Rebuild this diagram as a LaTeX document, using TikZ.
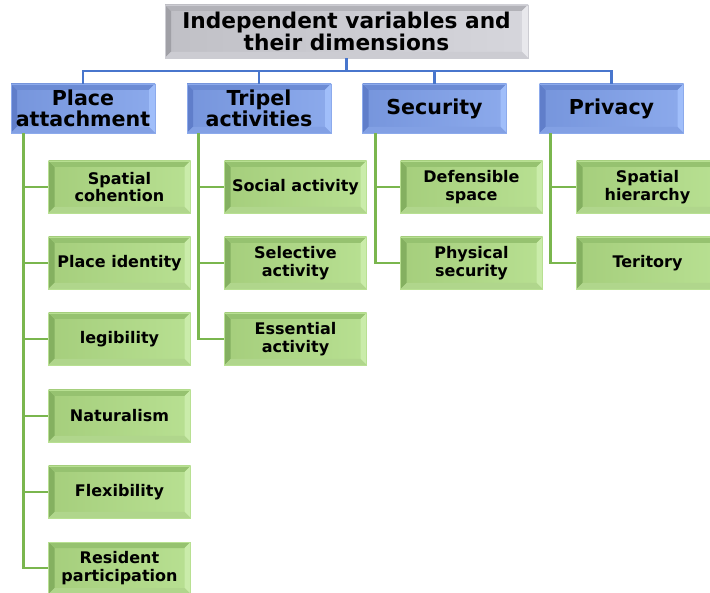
\documentclass[tikz,border=0pt]{standalone}
\usepackage{fontspec}
\setmainfont{DejaVu Sans}
\usetikzlibrary{calc}
\definecolor{busblue}{RGB}{72,118,205}
\definecolor{linegreen}{RGB}{122,182,78}
\definecolor{bfl}{RGB}{118,149,220}
\definecolor{bfr}{RGB}{140,170,236}
\definecolor{bl}{RGB}{96,126,202}
\definecolor{bt}{RGB}{108,139,212}
\definecolor{br}{RGB}{160,190,250}
\definecolor{bb}{RGB}{130,160,228}
\definecolor{gfl}{RGB}{165,206,124}
\definecolor{gfr}{RGB}{184,224,146}
\definecolor{gl}{RGB}{132,176,96}
\definecolor{gt}{RGB}{150,194,112}
\definecolor{gr}{RGB}{202,236,170}
\definecolor{gb}{RGB}{176,214,140}
\definecolor{rfl}{RGB}{192,192,198}
\definecolor{rfr}{RGB}{214,214,220}
\definecolor{rl}{RGB}{160,160,166}
\definecolor{rt}{RGB}{178,178,184}
\definecolor{rr}{RGB}{232,232,236}
\definecolor{rb}{RGB}{204,204,210}
\tikzset{
  bevel/.style n args={6}{
    path picture={
      \path (path picture bounding box.north west) coordinate (q1)
            (path picture bounding box.north east) coordinate (q2)
            (path picture bounding box.south east) coordinate (q3)
            (path picture bounding box.south west) coordinate (q4);
      \shade[left color=#1,right color=#2] (q4) rectangle (q2);
      \fill[#3] (q1) -- ($(q1)+(6pt,-6pt)$) -- ($(q4)+(6pt,6pt)$) -- (q4) -- cycle;
      \fill[#4] (q1) -- (q2) -- ($(q2)+(-6pt,-6pt)$) -- ($(q1)+(6pt,-6pt)$) -- cycle;
      \fill[#5] (q2) -- (q3) -- ($(q3)+(-6pt,6pt)$) -- ($(q2)+(-6pt,-6pt)$) -- cycle;
      \fill[#6] (q4) -- (q3) -- ($(q3)+(-6pt,6pt)$) -- ($(q4)+(6pt,6pt)$) -- cycle;
    }
  },
  rootbox/.style={bevel={rfl}{rfr}{rl}{rt}{rr}{rb}, draw=rb, line width=0.6pt,
    minimum width=363pt, minimum height=53pt, align=center, inner sep=0pt,
    font=\bfseries\fontsize{21.7}{21}\selectfont},
  catbox/.style={bevel={bfl}{bfr}{bl}{bt}{br}{bb}, draw=bfr, line width=0.6pt,
    minimum width=144pt, minimum height=49pt, align=center, inner sep=0pt,
    font=\bfseries\fontsize{20.6}{21.5}\selectfont},
  leafbox/.style={bevel={gfl}{gfr}{gl}{gt}{gr}{gb}, draw=gfr, line width=0.6pt,
    minimum width=142pt, minimum height=52pt, align=center, inner sep=0pt,
    font=\bfseries\fontsize{16}{17.5}\selectfont},
  busline/.style={draw=busblue, line width=2.6pt},
  leafline/.style={draw=linegreen, line width=2.6pt}
}
\begin{document}
\begin{tikzpicture}[x=1pt,y=-1pt]
\clip (0,0) rectangle (710,593);
\fill[white] (0,0) rectangle (710,593);
\coordinate (bus) at (346.5,71);
\node[rootbox] (root) at (346.5,31.5) {Independent variables and\\their dimensions};
\node[catbox] (pa) at (83,108.5) {Place\\attachment};
\node[catbox] (ta) at (259,108.5) {Tripel\\activities};
\node[catbox] (se) at (434.5,108.5) {Security};
\node[catbox] (pr) at (611.5,108.5) {Privacy};
\draw[busline] (root.south) -- (bus);
\draw[busline] (pa.north) -- (pa.north |- bus) -- (pr.north |- bus) -- (pr.north);
\draw[busline] (ta.north) -- (ta.north |- bus);
\draw[busline] (se.north) -- (se.north |- bus);
\node[leafbox] (a1) at (119.5,187) {Spatial\\cohention};
\node[leafbox] (a2) at (119.5,263) {Place identity};
\node[leafbox] (a3) at (119.5,339) {legibility};
\node[leafbox] (a4) at (119.5,416) {Naturalism};
\node[leafbox] (a5) at (119.5,492) {Flexibility};
\node[leafbox] (a6) at (119.5,568) {Resident\\participation};
\node[leafbox] (b1) at (295.5,187) {Social activity};
\node[leafbox] (b2) at (295.5,263) {Selective\\activity};
\node[leafbox] (b3) at (295.5,339) {Essential\\activity};
\node[leafbox] (c1) at (471.5,187) {Defensible\\space};
\node[leafbox] (c2) at (471.5,263) {Physical\\security};
\node[leafbox] (d1) at (647.5,187) {Spatial\\hierarchy};
\node[leafbox] (d2) at (647.5,263) {Teritory};
\foreach \c in {a1,a2,a3,a4,a5,a6}
  \draw[leafline] ([xshift=13pt]pa.south west) |- (\c.west);
\foreach \c in {b1,b2,b3}
  \draw[leafline] ([xshift=12pt]ta.south west) |- (\c.west);
\foreach \c in {c1,c2}
  \draw[leafline] ([xshift=13pt]se.south west) |- (\c.west);
\foreach \c in {d1,d2}
  \draw[leafline] ([xshift=11pt]pr.south west) |- (\c.west);
\end{tikzpicture}
\end{document}
